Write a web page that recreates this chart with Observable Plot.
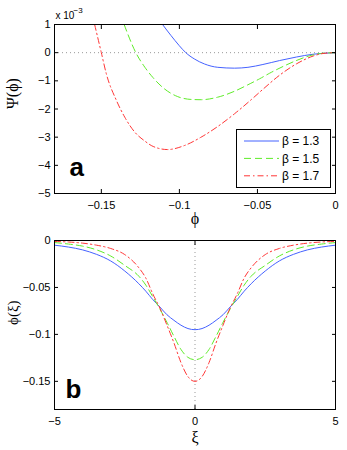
<!DOCTYPE html>
<html><head><meta charset="utf-8">
<script src="https://cdn.jsdelivr.net/npm/d3@7"></script>
<script src="https://cdn.jsdelivr.net/npm/@observablehq/plot@0.6"></script>
<style>
body{margin:0;background:#fff;font-family:"Liberation Sans",Arial,Helvetica,sans-serif;}
#wrap{position:relative;width:347px;height:450px;overflow:hidden;}
#wrap > svg{display:block}
</style></head><body><div id="wrap"></div>
<script>
// ---- legend / series ----
const betaLabels = ["β = 1.3", "β = 1.5", "β = 1.7"];
const colors = ["#4562ff", "#5fec2a", "#ff3636"];
const dashes = [null, "7,4", "6,3,1.5,3"];

// ---- panel a: Sagdeev potential Psi(phi), Psi in units of 1e-3 ----
const phiB13 = [-0.1108, -0.1054, -0.1001, -0.0959, -0.0905, -0.0840, -0.0754, -0.0647, -0.0561, -0.0465, -0.0358, -0.0251, -0.0143, 0];
const psiB13 = [1.0, 0.61, 0.25, 0.0, -0.22, -0.40, -0.52, -0.55, -0.52, -0.42, -0.28, -0.155, -0.055, 0];
const phiB15 = [-0.1354, -0.1279, -0.1221, -0.1170, -0.1097, -0.1011, -0.0926, -0.0861, -0.0754, -0.0647, -0.0561, -0.0487, -0.0422, -0.0336, -0.0251, -0.0165, -0.0080, 0];
const psiB15 = [1.0, 0.0, -0.52, -0.88, -1.28, -1.56, -1.66, -1.67, -1.58, -1.37, -1.14, -0.93, -0.73, -0.49, -0.28, -0.11, -0.02, 0];
const phiB17 = [-0.1543, -0.1500, -0.1468, -0.1403, -0.1350, -0.1286, -0.1221, -0.1168, -0.1076, -0.0969, -0.0861, -0.0754, -0.0647, -0.0540, -0.0465, -0.0358, -0.0251, -0.0143, -0.0080, 0];
const psiB17 = [1.0, 0.0, -0.75, -1.70, -2.29, -2.82, -3.14, -3.33, -3.44, -3.30, -3.00, -2.62, -2.17, -1.67, -1.30, -0.80, -0.40, -0.12, -0.03, 0];

const xTicksA = [-0.15, -0.1, -0.05, 0];
const yTicksA = [1, 0, -1, -2, -3, -4, -5];

// ---- panel b: soliton profile phi(xi) ----
const xi = [-5, -4.5, -4, -3.5, -3, -2.5, -2, -1.75, -1.5, -1.25, -1, -0.75, -0.5, -0.25, 0, 0.25, 0.5, 0.75, 1, 1.25, 1.5, 1.75, 2, 2.5, 3, 3.5, 4, 4.5, 5];
const solB13 = [-0.0050, -0.0070, -0.0100, -0.0148, -0.0218, -0.0325, -0.0460, -0.0540, -0.0630, -0.0708, -0.0790, -0.0850, -0.0902, -0.0938, -0.0950, -0.0938, -0.0902, -0.0850, -0.0790, -0.0708, -0.0630, -0.0540, -0.0460, -0.0325, -0.0218, -0.0148, -0.0100, -0.0070, -0.0050];
const solB15 = [-0.0022, -0.0038, -0.0060, -0.0100, -0.0165, -0.0265, -0.0380, -0.0475, -0.0600, -0.0730, -0.0870, -0.1020, -0.1160, -0.1245, -0.1270, -0.1245, -0.1160, -0.1020, -0.0870, -0.0730, -0.0600, -0.0475, -0.0380, -0.0265, -0.0165, -0.0100, -0.0060, -0.0038, -0.0022];
const solB17 = [-0.0010, -0.0016, -0.0028, -0.0050, -0.0085, -0.0150, -0.0290, -0.0400, -0.0570, -0.0720, -0.0900, -0.1090, -0.1300, -0.1450, -0.1500, -0.1450, -0.1300, -0.1090, -0.0900, -0.0720, -0.0570, -0.0400, -0.0290, -0.0150, -0.0085, -0.0050, -0.0028, -0.0016, -0.0010];

const xTicksB = [-5, 0, 5];
const yTicksB = [0, -0.05, -0.1, -0.15];

const fmt = d => (d < 0 ? "\u2212" + String(-d) : String(d));
const zip = (xs, ys) => xs.map((x, i) => ({x, y: ys[i]}));

function boxAxes(xt, yt) {
  return [
    Plot.axisX(xt, {anchor: "bottom", tickSize: 0, tickPadding: 8, tickFormat: fmt, label: null}),
    Plot.axisX(xt, {anchor: "bottom", tickSize: -4, fill: "none", label: null}),
    Plot.axisX(xt, {anchor: "top", tickSize: -4, fill: "none", label: null}),
    Plot.axisY(yt, {anchor: "left", tickSize: 0, tickPadding: 4, tickFormat: fmt, label: null}),
    Plot.axisY(yt, {anchor: "left", tickSize: -4, fill: "none", label: null}),
    Plot.axisY(yt, {anchor: "right", tickSize: -4, fill: "none", label: null})
  ];
}
function seriesLines(list) {
  return list.map((data, i) => Plot.line(data, {
    x: "x", y: "y", stroke: colors[i], strokeWidth: 1,
    strokeDasharray: dashes[i], curve: "monotone-x", clip: true
  }));
}
const style = {fontFamily: "'Liberation Sans', Arial, Helvetica, sans-serif", fontSize: "11px", background: "white", color: "black", overflow: "visible"};
const serif = "'Liberation Serif', 'Times New Roman', serif";

const plotA = Plot.plot({
  width: 347, height: 225,
  marginLeft: 54, marginRight: 12, marginTop: 24, marginBottom: 32,
  style,
  x: {domain: [-0.18, 0]},
  y: {domain: [-5, 1]},
  marks: [
    Plot.ruleY([0], {stroke: "#999", strokeDasharray: "1,3"}),
    ...seriesLines([zip(phiB13, psiB13), zip(phiB15, psiB15), zip(phiB17, psiB17)]),
    Plot.frame({stroke: "black"}),
    ...boxAxes(xTicksA, yTicksA),
    Plot.text(["x 10"], {text: d => d, frameAnchor: "top-left", dx: 1, dy: -6, textAnchor: "start", lineAnchor: "bottom", fontSize: 10}),
    Plot.text(["\u22123"], {text: d => d, frameAnchor: "top-left", dx: 19, dy: -12, textAnchor: "start", lineAnchor: "bottom", fontSize: 8}),
    Plot.text(["\u03D5"], {text: d => d, frameAnchor: "bottom", dy: 25, lineAnchor: "middle", fontSize: 16, fontFamily: serif}),
    Plot.text(["\u03A8(\u03D5)"], {text: d => d, frameAnchor: "left", dx: -42, rotate: -90, lineAnchor: "middle", fontSize: 16, fontFamily: serif}),
    Plot.text(["a"], {text: d => d, frameAnchor: "bottom-left", dx: 15, dy: -18, textAnchor: "start", lineAnchor: "bottom", fontSize: 26, fontWeight: "bold"})
  ]
});

const plotB = Plot.plot({
  width: 347, height: 225,
  marginLeft: 54, marginRight: 12, marginTop: 15, marginBottom: 41,
  style,
  x: {domain: [-5, 5]},
  y: {domain: [-0.18, 0]},
  marks: [
    Plot.ruleX([0], {stroke: "#999", strokeDasharray: "1,3"}),
    ...seriesLines([zip(xi, solB13), zip(xi, solB15), zip(xi, solB17)]),
    Plot.frame({stroke: "black"}),
    ...boxAxes(xTicksB, yTicksB),
    Plot.text(["ξ"], {text: d => d, frameAnchor: "bottom", dy: 28, lineAnchor: "middle", fontSize: 16, fontFamily: serif}),
    Plot.text(["\u03D5(ξ)"], {text: d => d, frameAnchor: "left", dx: -41, rotate: -90, lineAnchor: "middle", fontSize: 15, fontFamily: serif}),
    Plot.text(["b"], {text: d => d, frameAnchor: "bottom-left", dx: 11, dy: -12, textAnchor: "start", lineAnchor: "bottom", fontSize: 26, fontWeight: "bold"})
  ]
});

const wrap = document.getElementById("wrap");
wrap.append(plotA, plotB);

// legend box
const leg = d3.select(wrap).append("svg")
  .attr("width", 96).attr("height", 60)
  .style("position", "absolute").style("left", "236px").style("top", "129px");
leg.append("rect").attr("x", 0.5).attr("y", 0.5).attr("width", 94).attr("height", 58)
  .attr("fill", "white").attr("stroke", "black");
betaLabels.forEach((t, i) => {
  const y = 12 + i * 17.4;
  leg.append("line").attr("x1", 8).attr("x2", 43).attr("y1", y).attr("y2", y)
    .attr("stroke", colors[i]).attr("stroke-width", 1)
    .attr("stroke-dasharray", dashes[i]);
  leg.append("text").attr("x", 46).attr("y", y).attr("dy", "0.35em")
    .attr("font-size", 12).attr("font-family", "'Liberation Sans', Arial, sans-serif").text(t);
});
</script></body></html>
